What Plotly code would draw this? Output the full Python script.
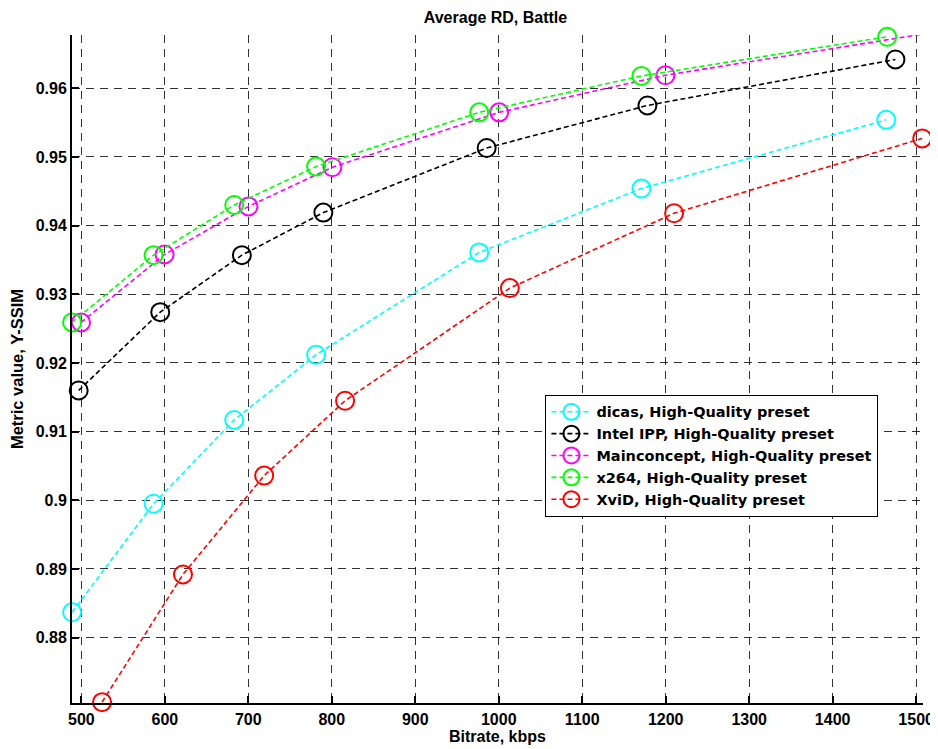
import plotly.graph_objects as go

# Data (bitrate kbps, Y-SSIM)
dicas_x = [488.9, 586.5, 683.1, 781.2, 976.6, 1170.9, 1464.1]
dicas_y = [0.8837, 0.8995, 0.9117, 0.9212, 0.9361, 0.9454, 0.9554]

intel_x = [496.8, 594.5, 692.3, 789.9, 985.5, 1178.1, 1475.2]
intel_y = [0.9160, 0.9274, 0.9357, 0.9419, 0.9513, 0.9575, 0.9642]

mc_x = [499.6, 599.7, 700.2, 800.7, 1000.5, 1199.7, 1560.0]
mc_y = [0.9259, 0.9358, 0.9428, 0.9485, 0.9565, 0.9619, 0.9689]

x264_x = [488.9, 586.5, 683.1, 781.2, 976.6, 1170.9, 1465.3]
x264_y = [0.9259, 0.9357, 0.9430, 0.9486, 0.9565, 0.9618, 0.9675]

xvid_x = [524.8, 621.7, 719.0, 815.9, 1013.3, 1210.0, 1507.2]
xvid_y = [0.8706, 0.8892, 0.9036, 0.9145, 0.9309, 0.9418, 0.9527]

names = ["dicas, High-Quality preset", "Intel IPP, High-Quality preset",
         "Mainconcept, High-Quality preset", "x264, High-Quality preset",
         "XviD, High-Quality preset"]
colors = ["#00FFFF", "#000000", "#FF00FF", "#00FF00", "#FF0000"]
series = [(dicas_x, dicas_y), (intel_x, intel_y), (mc_x, mc_y),
          (x264_x, x264_y), (xvid_x, xvid_y)]

x_ticks = [500, 600, 700, 800, 900, 1000, 1100, 1200, 1300, 1400, 1500]
y_ticks = [0.88, 0.89, 0.90, 0.91, 0.92, 0.93, 0.94, 0.95, 0.96]
y_ticktext = ["0.88", "0.89", "0.9", "0.91", "0.92", "0.93", "0.94", "0.95", "0.96"]

FONT = "Liberation Sans, Arial, Helvetica, sans-serif"
LEGEND_FONT = "DejaVu Sans, Liberation Sans, sans-serif"

fig = go.Figure()
for (xs, ys), name, c in zip(series, names, colors):
    fig.add_trace(go.Scatter(
        x=xs, y=ys, name=name, mode="lines+markers",
        line=dict(color=c, width=1.6, dash="5px,3px"),
        marker=dict(symbol="circle-open", size=18, color=c, line=dict(color=c, width=2)),
        cliponaxis=False,
    ))

grid_color = "rgba(0,0,0,0.8)"
fig.update_layout(
    width=938, height=749,
    paper_bgcolor="white", plot_bgcolor="white",
    margin=dict(l=64, r=22.5, t=27, b=53.7, autoexpand=False),
    font=dict(family=FONT, size=16, color="black", weight="bold"),
    title=dict(text="Average RD, Battle", x=0.5197, xanchor="center",
               y=0.9873, yanchor="middle", yref="container", automargin=False,
               font=dict(family=FONT, size=16, weight="bold")),
    showlegend=True,
    legend=dict(x=0.5563, y=0.4613, xanchor="left", yanchor="top",
                bgcolor="white", bordercolor="black", borderwidth=1,
                font=dict(family=LEGEND_FONT, size=14.5, weight="bold"),
                itemwidth=40, tracegroupgap=0),
)
fig.update_xaxes(
    range=[488.8, 1508.2], tickmode="array", tickvals=x_ticks,
    showline=True, linecolor="black", linewidth=2, mirror=False,
    ticks="inside", ticklen=7, tickcolor="black", tickwidth=1.5,
    showgrid=True, gridcolor=grid_color, gridwidth=1, griddash="8px,6px",
    zeroline=False, automargin=False, ticklabelstandoff=1,
    tickfont=dict(family=FONT, size=16, weight="bold"),
    title=dict(text="Bitrate, kbps", standoff=0,
               font=dict(family=FONT, size=16, weight="bold")),
)
fig.update_yaxes(
    range=[0.87048, 0.96776], tickmode="array", tickvals=y_ticks, ticktext=y_ticktext,
    showline=True, linecolor="black", linewidth=2, mirror=False,
    ticks="inside", ticklen=7, tickcolor="black", tickwidth=1.5,
    showgrid=True, gridcolor=grid_color, gridwidth=1, griddash="8px,6px",
    zeroline=False, automargin=False,
    tickfont=dict(family=FONT, size=16, weight="bold"),
    title=dict(text="Metric value, Y-SSIM", standoff=10,
               font=dict(family=FONT, size=16.5, weight="bold")),
)

fig.write_html("out.html")
